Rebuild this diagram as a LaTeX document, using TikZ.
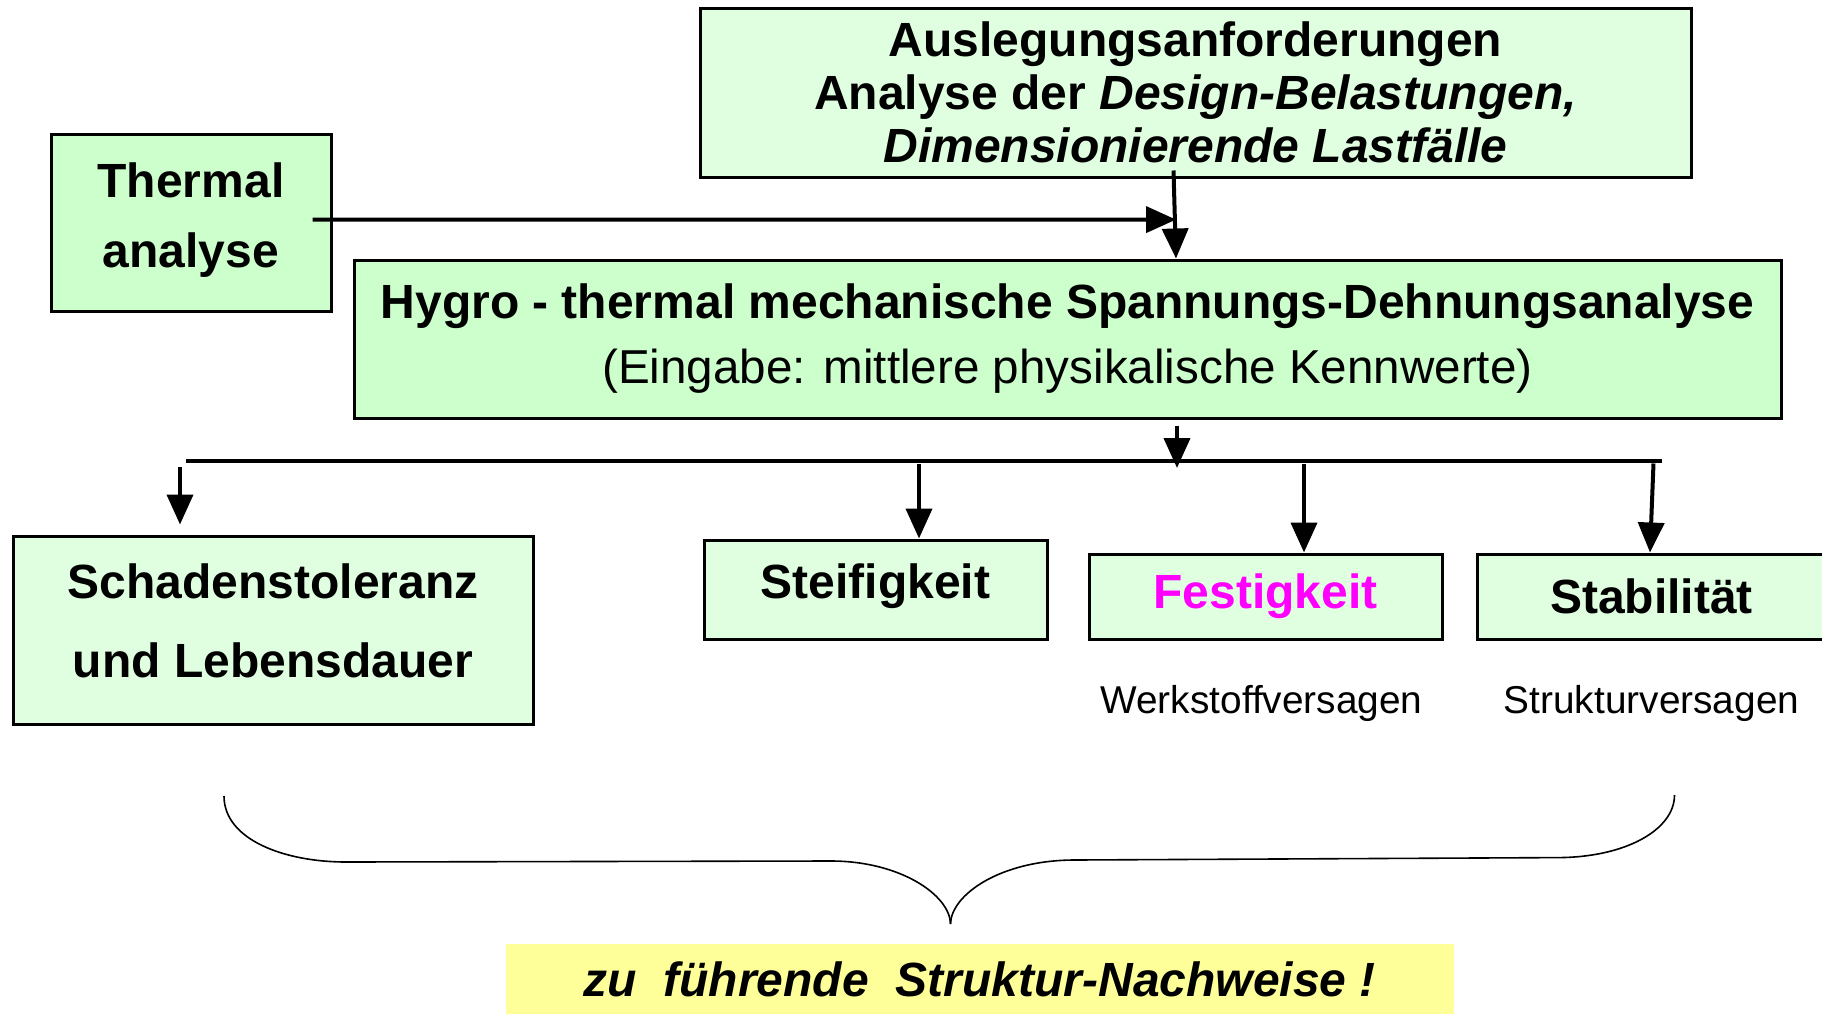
\documentclass[tikz,border=0pt]{standalone}
\usepackage{fontspec}
\setmainfont{Liberation Sans}
\usepackage{xcolor}
\usepackage{tikz}
\usetikzlibrary{arrows.meta}
\usetikzlibrary{shapes,positioning,calc}

\definecolor{palegreen}{HTML}{E0FFE0}
\definecolor{lightgreen}{HTML}{CCFFCC}
\definecolor{noteyellow}{HTML}{FFFF99}
\definecolor{festmagenta}{RGB}{255,0,255}

\begin{document}
\begin{tikzpicture}[x=0.5pt,y=-0.5pt,
    box/.style={draw,line width=1.5pt,inner sep=0pt,align=center,
      font=\bfseries\fontsize{24}{26.5}\selectfont},
    arr/.style={line width=2pt,-{Triangle[length=15pt,width=13pt]}}]
  \useasboundingbox (0,0) rectangle (1822,1013);
  % top row
  \node[box,fill=palegreen,minimum width=495.5pt,minimum height=84.5pt] (ausl) at (1195.5,92.5)
    {Auslegungsanforderungen\\
     Analyse der \textit{Design-Belastungen,}\\
     \textit{Dimensionierende Lastfälle}};
  \node[box,fill=lightgreen,minimum width=140pt,minimum height=88.5pt,
    font=\bfseries\fontsize{24}{35}\selectfont] (therm) at (191,222.5)
    {Thermal\\ analyse\\[-27.5pt]};
  \node[box,fill=lightgreen,minimum width=713.5pt,minimum height=79pt,
    font=\bfseries\fontsize{24}{32.5}\selectfont] (hygro) at (1067.5,339)
    {Hygro - thermal mechanische Spannungs-Dehnungsanalyse\\
     {\mdseries\fontsize{23.8}{32.5}\selectfont(Eingabe: mittlere physikalische Kennwerte)}};
  \coordinate (meet) at (1176,219.6);
  \coordinate (busL) at (186,461.3);
  \coordinate (busR) at (1662,461.3);
  \coordinate (split) at (1177,468);
  \draw[arr] ([xshift=-10pt,yshift=1.5pt]therm.east) -- (meet);
  \draw[arr] ([xshift=-11pt,yshift=4pt]ausl.south) -- (hygro.north -| meet);
  \draw[arr] (hygro.south -| split) ++(0,6) -- (split);
  \draw[line width=2pt] (busL) -- (busR);
  % checks
  \node[box,fill=palegreen,minimum width=260pt,minimum height=94pt,
    font=\bfseries\fontsize{24}{39.5}\selectfont] (schaden) at (273,630)
    {Schadenstoleranz\\ und Lebensdauer\\[-30.2pt]};
  \node[box,fill=palegreen,minimum width=171.5pt,minimum height=49.5pt] (steif) at (875.5,589.5)
    {Steifigkeit\\[-17.8pt]};
  \node[box,fill=palegreen,minimum width=176.5pt,minimum height=42.5pt,text=festmagenta] (fest) at (1265.5,596.5)
    {Festigkeit};
  \node[box,fill=palegreen,minimum width=174.5pt,minimum height=42.5pt] (stab) at (1651.5,596.5)
    {Stabilität};
  \draw[arr,shorten >=5pt] ([xshift=-46.5pt]schaden.north) ++(0,-68) -- ([xshift=-46.5pt]schaden.north);
  \draw[arr] ([xshift=21.75pt]steif.north) ++(0,-75) -- ([xshift=21.75pt]steif.north);
  \draw[arr] ([xshift=19.25pt]fest.north) ++(0,-89) -- ([xshift=19.25pt]fest.north);
  \draw[arr] ([xshift=-0.75pt]stab.north) ++(3.5,-89) -- ([xshift=-0.75pt]stab.north);
  \node[font=\fontsize{19.4}{22}\selectfont] (werk) at ([xshift=-2pt,yshift=-31.5pt]fest.south) {Werkstoffversagen};
  \node[font=\fontsize{19.4}{22}\selectfont] (struk) at ([yshift=-31.5pt]stab.south) {Strukturversagen};
  % brace
  \draw[line width=0.8pt] (224,796) .. controls (224,840) and (285,862) .. (346,862)
    -- (831,861) .. controls (900,861) and (950,895) .. (950.5,924);
  \draw[line width=0.8pt] (950.5,924) .. controls (951,895) and (1000,860) .. (1075,860)
    -- (1557,857.6) .. controls (1625,857.6) and (1674.5,830) .. (1674.5,795);
  \node[fill=noteyellow,minimum width=474pt,minimum height=36pt,inner sep=0pt,
    font=\bfseries\itshape\fontsize{24}{26}\selectfont] (proof) at (979.75,979.75)
    {zu\ \ führende\ \ Struktur-Nachweise !};
\end{tikzpicture}
\end{document}
